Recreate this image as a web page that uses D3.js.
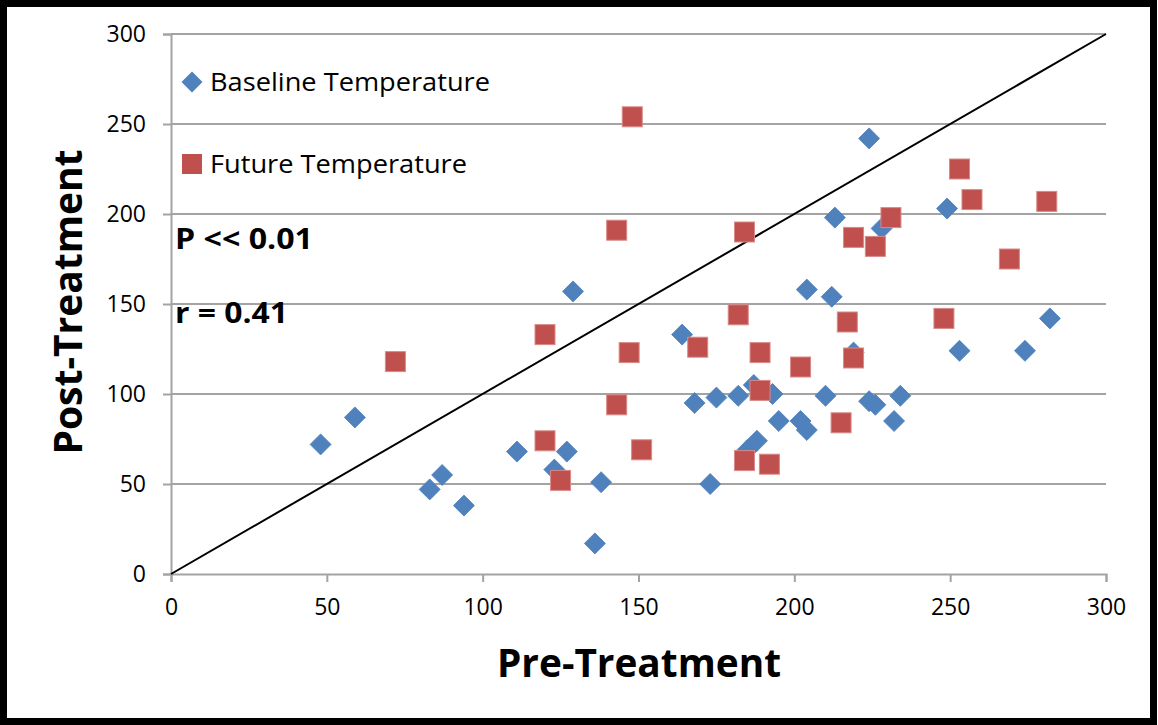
<!DOCTYPE html>
<html>
<head>
<meta charset="utf-8">
<script src="https://cdn.jsdelivr.net/npm/d3@7"></script>
<style>
  html, body { margin: 0; padding: 0; background: #fff; }
  svg { display: block; }
</style>
</head>
<body>
<svg id="chart" width="1158" height="725"></svg>
<script>
// ---- data ----
const baselineX = [48, 59, 83, 87, 94, 111, 123, 127, 129, 136, 138, 164, 168, 173, 175, 182, 185, 187, 188, 193, 195, 202, 204, 204, 210, 212, 213, 219, 224, 224, 226, 228, 232, 234, 249, 253, 274, 282];
const baselineY = [72, 87, 47, 55, 38, 68, 58, 68, 157, 17, 51, 133, 95, 50, 98, 99, 69, 105, 74, 100, 85, 85, 80, 158, 99, 154, 198, 123, 242, 96, 94, 192, 85, 99, 203, 124, 124, 142];
const futureX = [72, 120, 120, 125, 143, 143, 147, 148, 151, 169, 182, 184, 184, 189, 189, 192, 202, 215, 217, 219, 219, 226, 231, 248, 253, 257, 269, 281];
const futureY = [118, 133, 74, 52, 191, 94, 123, 254, 69, 126, 144, 190, 63, 123, 102, 61, 115, 84, 140, 187, 120, 182, 198, 142, 225, 208, 175, 207];
const xTicks = [0, 50, 100, 150, 200, 250, 300];
const yTicks = [0, 50, 100, 150, 200, 250, 300];
const seriesNames = ["Baseline Temperature", "Future Temperature"];
const identityLine = [[0, 0], [300, 300]];
const xTitle = "Pre-Treatment";
const yTitle = "Post-Treatment";
const statLines = ["P << 0.01", "r = 0.41"];

// ---- layout ----
const svg = d3.select("#chart");
const L = 171, R = 1106, T = 34, B = 574;
const x = d3.scaleLinear().domain([0, 300]).range([L, R]);
const y = d3.scaleLinear().domain([0, 300]).range([B, T]);
const font = "'Open Sans', 'DejaVu Sans', sans-serif";
const blue = "#4F81BD", red = "#C0504D", grid = "#A3A3A3";

svg.append("rect").attr("width", 1158).attr("height", 725).attr("fill", "#fff");

// gridlines
svg.append("g").selectAll("line").data(yTicks.filter(d => d > 0)).join("line")
  .attr("x1", L).attr("x2", R).attr("y1", d => y(d)).attr("y2", d => y(d))
  .attr("stroke", grid).attr("stroke-width", 2);

// y axis
const yAxis = svg.append("g").attr("transform", `translate(${L},0)`)
  .call(d3.axisLeft(y).tickValues(yTicks).tickSize(8).tickPadding(17).tickFormat(d3.format("d")));
yAxis.select(".domain").attr("stroke", grid).attr("stroke-width", 2);
yAxis.selectAll(".tick line").attr("stroke", grid).attr("stroke-width", 2);
yAxis.selectAll("text").attr("font-family", font).attr("font-size", 23).attr("fill", "#000");

// x axis
const xAxis = svg.append("g").attr("transform", `translate(0,${B})`)
  .call(d3.axisBottom(x).tickValues(xTicks).tickSize(8).tickPadding(17).tickFormat(d3.format("d")));
xAxis.select(".domain").attr("stroke", grid).attr("stroke-width", 2);
xAxis.selectAll(".tick line").attr("stroke", grid).attr("stroke-width", 2);
xAxis.selectAll("text").attr("font-family", font).attr("font-size", 23).attr("fill", "#000");

// identity line
svg.append("path").datum(identityLine)
  .attr("d", d3.line().x(d => x(d[0])).y(d => y(d[1])))
  .attr("stroke", "#000").attr("stroke-width", 2).attr("fill", "none");

// points
const mk = 20;
const diamond = d3.symbol().type(d3.symbolSquare).size(mk * mk / 2 + 20)();
svg.append("g").selectAll("path").data(baselineX.map((v, i) => [v, baselineY[i]])).join("path")
  .attr("d", diamond)
  .attr("transform", d => `translate(${x(d[0])},${y(d[1])}) rotate(45)`)
  .attr("fill", blue).attr("stroke", blue).attr("stroke-width", 0.8);
svg.append("g").selectAll("rect").data(futureX.map((v, i) => [v, futureY[i]])).join("rect")
  .attr("x", d => x(d[0]) - mk / 2).attr("y", d => y(d[1]) - mk / 2)
  .attr("width", mk).attr("height", mk)
  .attr("fill", red).attr("stroke", "#D88A88").attr("stroke-width", 1);

// legend
const legend = svg.append("g");
legend.append("path").attr("d", diamond).attr("transform", "translate(192,82) rotate(45)").attr("fill", blue);
legend.append("rect").attr("x", 182).attr("y", 154).attr("width", 20).attr("height", 20).attr("fill", red);
legend.append("text").attr("x", 210).attr("y", 91).text(seriesNames[0])
  .attr("font-family", font).attr("font-size", 25).attr("textLength", 280).attr("lengthAdjust", "spacingAndGlyphs");
legend.append("text").attr("x", 210).attr("y", 173).text(seriesNames[1])
  .attr("font-family", font).attr("font-size", 25).attr("textLength", 257).attr("lengthAdjust", "spacingAndGlyphs");

// stats text
svg.append("text").attr("x", 175).attr("y", 249).text(statLines[0])
  .attr("font-family", font).attr("font-weight", "bold").attr("font-size", 29)
  .attr("textLength", 138).attr("lengthAdjust", "spacingAndGlyphs");
svg.append("text").attr("x", 175).attr("y", 323).text(statLines[1])
  .attr("font-family", font).attr("font-weight", "bold").attr("font-size", 29)
  .attr("textLength", 113).attr("lengthAdjust", "spacingAndGlyphs");

// axis titles
svg.append("text").attr("x", 639).attr("y", 677).attr("text-anchor", "middle").text(xTitle)
  .attr("font-family", font).attr("font-weight", "bold").attr("font-size", 40)
  .attr("textLength", 284).attr("lengthAdjust", "spacingAndGlyphs");
svg.append("text").attr("transform", "translate(82,302) rotate(-90)").attr("text-anchor", "middle").text(yTitle)
  .attr("font-family", font).attr("font-weight", "bold").attr("font-size", 40)
  .attr("textLength", 305).attr("lengthAdjust", "spacingAndGlyphs");

// outer frame
svg.append("rect").attr("x", 3.5).attr("y", 3.5).attr("width", 1150).attr("height", 718)
  .attr("fill", "none").attr("stroke", "#000").attr("stroke-width", 7);
</script>
</body>
</html>
